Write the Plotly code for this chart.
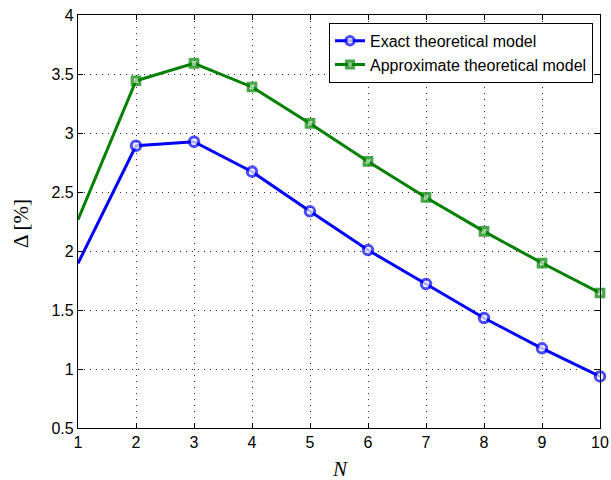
import plotly.graph_objects as go

N = [1, 2, 3, 4, 5, 6, 7, 8, 9, 10]
exact = [1.895, 2.892, 2.926, 2.672, 2.336, 2.008, 1.720, 1.432, 1.175, 0.937]
approx = [2.265, 3.443, 3.590, 3.390, 3.081, 2.759, 2.454, 2.166, 1.898, 1.644]
xticks = [1, 2, 3, 4, 5, 6, 7, 8, 9, 10]
yticks = [0.5, 1, 1.5, 2, 2.5, 3, 3.5, 4]
ytick_text = ["0.5", "1", "1.5", "2", "2.5", "3", "3.5", "4"]

# marker at the left edge is hidden (clipped in the original)
circle_sizes = [0] + [9.5] * (len(N) - 1)
square_sizes = [0] + [7.5] * (len(N) - 1)

fig = go.Figure()
fig.add_trace(go.Scatter(
    x=N, y=exact, mode="lines+markers", name="Exact theoretical model",
    line=dict(color="#0000ff", width=3),
    marker=dict(symbol="circle", size=circle_sizes, color="white",
                line=dict(width=3, color="#0000ff")),
    cliponaxis=False,
))
fig.add_trace(go.Scatter(
    x=N, y=approx, mode="lines+markers", name="Approximate theoretical model",
    line=dict(color="#008000", width=3),
    marker=dict(symbol="square", size=square_sizes, color="#cfe8cf",
                line=dict(width=3.2, color="#008000")),
    cliponaxis=False,
))

axis_common = dict(
    showline=True, linecolor="black", linewidth=1.2, mirror="ticks",
    ticks="inside", ticklen=5, tickcolor="black", tickwidth=1,
    showgrid=True, gridcolor="rgba(0,0,0,0.8)", griddash="1px,5px", gridwidth=1,
    zeroline=False, automargin=False,
    tickfont=dict(family="Liberation Sans, Arial, sans-serif", size=16, color="black"),
)

fig.update_xaxes(range=[1, 10], tickvals=xticks, ticktext=[str(v) for v in xticks], **axis_common)
fig.update_yaxes(range=[0.5, 4], tickvals=yticks, ticktext=ytick_text, **axis_common)

fig.update_layout(
    width=611, height=480,
    margin=dict(l=78, r=11, t=15, b=52),
    paper_bgcolor="white", plot_bgcolor="white",
    showlegend=True,
    legend=dict(
        x=0.9866, y=0.981, xanchor="right", yanchor="top",
        bordercolor="black", borderwidth=1, bgcolor="white",
        font=dict(family="Liberation Sans, Arial, sans-serif", size=16, color="black"),
        tracegroupgap=0, itemwidth=30,
    ),
    annotations=[
        dict(text="Δ [%]", xref="paper", yref="paper", x=-0.109, y=0.494,
             textangle=-90, showarrow=False, xanchor="center", yanchor="middle",
             font=dict(family="Liberation Serif, serif", size=21, color="black")),
        dict(text="<i>N</i>", xref="paper", yref="paper", x=0.502, y=-0.099,
             showarrow=False, xanchor="center", yanchor="middle",
             font=dict(family="Liberation Serif, serif", size=21, color="black")),
    ],
)

fig.write_html("out.html", config={"displayModeBar": False},
               post_script="document.body.style.margin='0px';")
